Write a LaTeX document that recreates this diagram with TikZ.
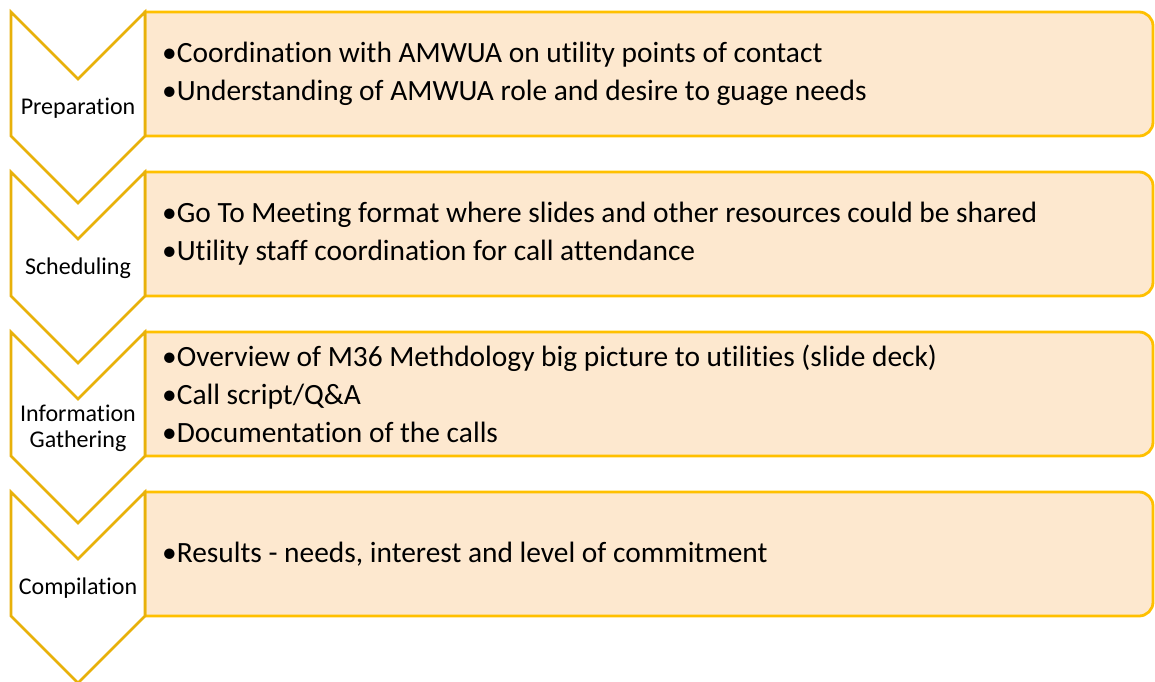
\documentclass[tikz,border=0pt]{standalone}
\usepackage{fontspec}
\setmainfont{Carlito}[Ligatures={NoCommon}]
\usetikzlibrary{positioning}

\definecolor{gold}{HTML}{FFC000}
\definecolor{darkgold}{HTML}{E8B10A}
\definecolor{peach}{HTML}{FDE8CF}

\begin{document}
\begin{tikzpicture}[
    x=1pt, y=-1pt,
    chevron/.style={draw=darkgold, fill=white, line width=2.6pt, line join=miter},
    stepbox/.style={draw=gold, fill=peach, line width=2.8pt},
    label/.style={font=\fontsize{24}{26}\selectfont, align=center, inner sep=0},
    items/.style={font=\fontsize{29.4}{38}\selectfont, align=left, anchor=west, inner sep=0},
    ]
    \useasboundingbox (0,0) rectangle (1155,681);
    %Boxes
    \draw[stepbox] (145,136) -- (145,12) [rounded corners=14] -- (1153,12) -- (1153,136) [sharp corners] -- cycle;
    \draw[stepbox] (145,296) -- (145,172) [rounded corners=14] -- (1153,172) -- (1153,296) [sharp corners] -- cycle;
    \draw[stepbox] (145,456) -- (145,332) [rounded corners=14] -- (1153,332) -- (1153,456) [sharp corners] -- cycle;
    \draw[stepbox] (145,616) -- (145,492) [rounded corners=14] -- (1153,492) -- (1153,616) [sharp corners] -- cycle;
    %Chevrons
    \draw[chevron] (11,12) -- (78,79) -- (145,12) -- (145,136) -- (78,203) -- (11,136) -- cycle;
    \draw[chevron] (11,172) -- (78,239) -- (145,172) -- (145,296) -- (78,363) -- (11,296) -- cycle;
    \draw[chevron] (11,332) -- (78,399) -- (145,332) -- (145,456) -- (78,523) -- (11,456) -- cycle;
    \draw[chevron] (11,492) -- (78,559) -- (145,492) -- (145,616) -- (78,683) -- (11,616) -- cycle;
    %Labels
    \node[label] (prep)    at (78,108) {Preparation};
    \node[label] (sched)   at (78,268) {Scheduling};
    \node[label] (info)    at (78,428) {Information\\Gathering};
    \node[label] (compil)  at (78,588) {Compilation};
    %Items
    \node[items] (prepitems)   at (162,74)  {•Coordination with AMWUA on utility points of contact\\•Understanding of AMWUA role and desire to guage needs};
    \node[items] (scheditems)  at (162,234) {•Go To Meeting format where slides and other resources could be shared\\•Utility staff coordination for call attendance};
    \node[items] (infoitems)   at (162,394) {•Overview of M36 Methdology big picture to utilities (slide deck)\\•Call script/Q\&A\\•Documentation of the calls};
    \node[items] (compilitems) at (162,554) {•Results - needs, interest and level of commitment};
\end{tikzpicture}
\end{document}
